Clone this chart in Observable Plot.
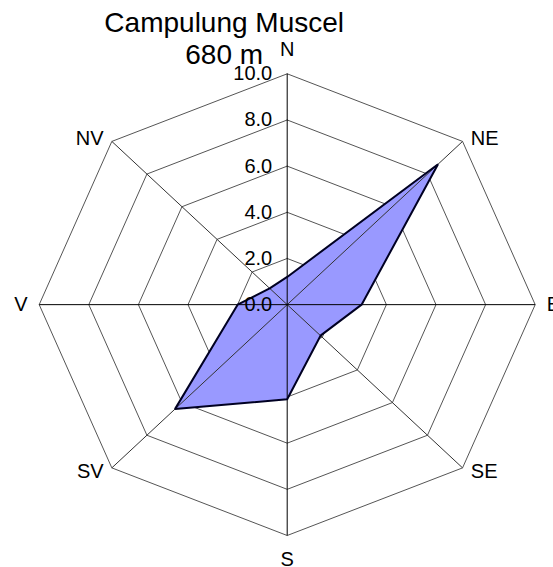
<!DOCTYPE html>
<html>
<head>
<meta charset="utf-8">
<script src="https://cdn.jsdelivr.net/npm/d3@7"></script>
<script src="https://cdn.jsdelivr.net/npm/@observablehq/plot@0.6"></script>
<style>
  html, body { margin: 0; padding: 0; background: #fff; }
  svg { overflow: visible; }
</style>
</head>
<body>
<div id="chart"></div>
<script>
// ---- Data ----
const directions = ["N", "NE", "E", "SE", "S", "SV", "V", "NV"];
const frequencies = [1.2, 8.6, 3.0, 1.9, 4.1, 6.4, 2.0, 1.0];
const ringTicks = [0, 2, 4, 6, 8, 10];
const tickLabels = ["0.0", "2.0", "4.0", "6.0", "8.0", "10.0"];
const titleLines = ["Campulung Muscel", "680 m"];

// ---- Polar helpers ----
const angle = i => (i * 2 * Math.PI) / directions.length;
const maxR = d3.max(ringTicks);

// rings (closed octagons)
const rings = [];
ringTicks.filter(t => t > 0).forEach(t => {
  directions.concat(directions[0]).forEach((d, j) => {
    const a = angle(j % directions.length);
    rings.push({ring: t, x: t * Math.sin(a), y: t * Math.cos(a)});
  });
});

// spokes
const spokes = directions.map((d, i) => ({
  dir: d,
  main: i % 2 === 0,
  x2: maxR * Math.sin(angle(i)),
  y2: maxR * Math.cos(angle(i))
}));

// data polygon (closed)
const poly = frequencies.concat(frequencies[0]).map((v, j) => {
  const a = angle(j % directions.length);
  return {x: v * Math.sin(a), y: v * Math.cos(a)};
});

// direction labels
const dirLabels = directions.map((d, i) => {
  const s = Math.sin(angle(i)), c = Math.cos(angle(i));
  const side = Math.abs(s) > 0.1;
  return {
    text: d,
    x: side ? s * maxR * 1.047 : 0,
    y: side ? c * maxR * 1.02 : c * maxR * 1.105,
    anchor: s > 0.1 ? "start" : s < -0.1 ? "end" : "middle"
  };
});

const ticks = ringTicks.map((t, i) => ({v: t, label: tickLabels[i]}));

const font = "Liberation Sans, Arial, sans-serif";

const chart = Plot.plot({
  width: 553,
  height: 567,
  marginLeft: 38.7,
  marginRight: 18.3,
  marginTop: 73.3,
  marginBottom: 32,
  x: {domain: [-maxR, maxR], axis: null},
  y: {domain: [-maxR, maxR], axis: null},
  style: {fontFamily: font, background: "#fff"},
  marks: [
    Plot.line(rings, {x: "x", y: "y", z: "ring", stroke: "#555", strokeWidth: 1}),
    Plot.line(poly, {x: "x", y: "y", fill: "#9999ff", stroke: "none"}),
    Plot.link(spokes.filter(d => !d.main), {x1: 0, y1: 0, x2: "x2", y2: "y2", stroke: "#333", strokeWidth: 1}),
    Plot.link(spokes.filter(d => d.main), {x1: 0, y1: 0, x2: "x2", y2: "y2", stroke: "#000", strokeWidth: 1}),
    Plot.line(poly, {x: "x", y: "y", stroke: "#000022", strokeWidth: 2, strokeLinejoin: "miter"}),
    Plot.text(ticks, {x: 0, y: "v", text: "label", textAnchor: "end", dx: -15, fontSize: 20, fill: "#000"}),
    Plot.text(dirLabels.filter(d => d.anchor === "start"), {x: "x", y: "y", text: "text", textAnchor: "start", fontSize: 20, fill: "#000"}),
    Plot.text(dirLabels.filter(d => d.anchor === "end"), {x: "x", y: "y", text: "text", textAnchor: "end", fontSize: 20, fill: "#000"}),
    Plot.text(dirLabels.filter(d => d.anchor === "middle"), {x: "x", y: "y", text: "text", textAnchor: "middle", fontSize: 20, fill: "#000"}),
    Plot.text([titleLines.join("\n")], {frameAnchor: "top", text: d => d, lineAnchor: "bottom", lineHeight: 1.13, dx: -63, dy: -10, fontSize: 28, fill: "#000"})
  ]
});
document.getElementById("chart").appendChild(chart);
</script>
</body>
</html>
